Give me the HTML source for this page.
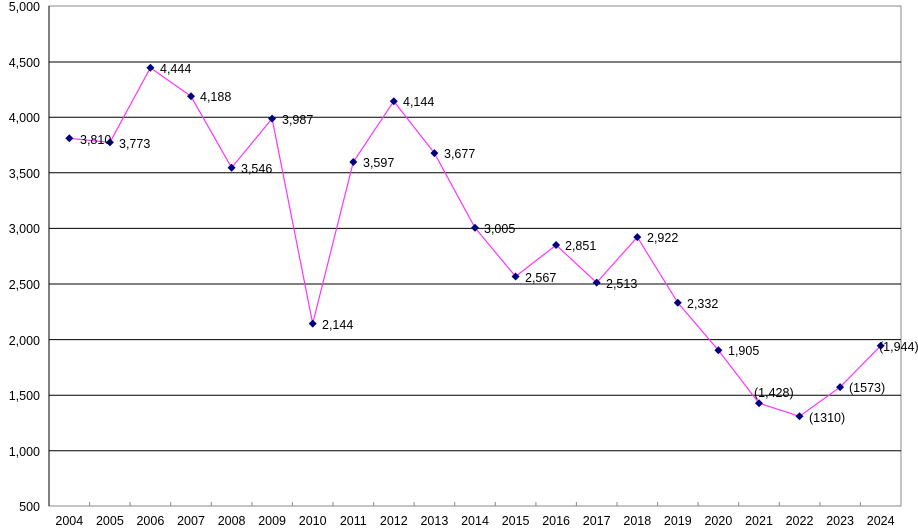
<!DOCTYPE html>
<html><head><meta charset="utf-8"><style>body{margin:0;background:#fff}svg{display:block}text{font-family:"Liberation Sans",sans-serif;font-size:12.5px;fill:#000}</style></head><body>
<svg width="918" height="530" viewBox="0 0 918 530">
<rect x="49" y="6" width="852" height="500" fill="#fff" stroke="#888" stroke-width="1"/>
<g stroke="#000" stroke-width="1">
<line x1="49" x2="901" y1="62" y2="62"/><line x1="49" x2="901" y1="117.2" y2="117.2"/>
<line x1="49" x2="901" y1="172.8" y2="172.8"/><line x1="49" x2="901" y1="228.4" y2="228.4"/>
<line x1="49" x2="901" y1="284" y2="284"/><line x1="49" x2="901" y1="339.6" y2="339.6"/>
<line x1="49" x2="901" y1="395.2" y2="395.2"/><line x1="49" x2="901" y1="450.8" y2="450.8"/>
<line x1="49" x2="49" y1="6" y2="506"/>
</g>
<g stroke="#888" stroke-width="1">
<path d="M89.6 506v-4M130.1 506v-4M170.7 506v-4M211.3 506v-4M251.9 506v-4M292.4 506v-4M333 506v-4M373.6 506v-4M414.1 506v-4M454.7 506v-4M495.3 506v-4M535.9 506v-4M576.4 506v-4M617 506v-4M657.6 506v-4M698.1 506v-4M738.7 506v-4M779.3 506v-4M819.9 506v-4M860.4 506v-4"/>
</g>
<g text-anchor="end">
<text x="40" y="11">5,000</text><text x="40" y="67">4,500</text><text x="40" y="122">4,000</text><text x="40" y="178">3,500</text><text x="40" y="233">3,000</text><text x="40" y="289">2,500</text><text x="40" y="345">2,000</text><text x="40" y="400">1,500</text><text x="40" y="456">1,000</text><text x="40" y="511">500</text>
</g>
<g text-anchor="middle">
<text x="69.3" y="525">2004</text><text x="109.9" y="525">2005</text><text x="150.4" y="525">2006</text><text x="191" y="525">2007</text><text x="231.6" y="525">2008</text><text x="272.1" y="525">2009</text><text x="312.7" y="525">2010</text><text x="353.3" y="525">2011</text><text x="393.8" y="525">2012</text><text x="434.4" y="525">2013</text><text x="475" y="525">2014</text><text x="515.6" y="525">2015</text><text x="556.1" y="525">2016</text><text x="596.7" y="525">2017</text><text x="637.3" y="525">2018</text><text x="677.8" y="525">2019</text><text x="718.4" y="525">2020</text><text x="759" y="525">2021</text><text x="799.5" y="525">2022</text><text x="840.1" y="525">2023</text><text x="880.7" y="525">2024</text>
</g>
<polyline fill="none" stroke="#ff33ff" stroke-width="1.2" points="69.3,138.3 109.9,142.4 150.4,67.8 191,96.3 231.6,167.7 272.1,118.6 312.7,323.6 353.3,162 393.8,101.2 434.4,153.1 475,227.8 515.6,276.5 556.1,245 596.7,282.6 637.3,237.1 677.8,302.7 718.4,350.2 759,403.2 799.5,416.3 840.1,387.1 880.7,345.8"/>
<g fill="#000080">
<path d="M69.3 134.3l4 4-4 4-4-4z"/><path d="M109.9 138.4l4 4-4 4-4-4z"/><path d="M150.4 63.8l4 4-4 4-4-4z"/><path d="M191 92.3l4 4-4 4-4-4z"/><path d="M231.6 163.7l4 4-4 4-4-4z"/><path d="M272.1 114.6l4 4-4 4-4-4z"/><path d="M312.7 319.6l4 4-4 4-4-4z"/><path d="M353.3 158l4 4-4 4-4-4z"/><path d="M393.8 97.2l4 4-4 4-4-4z"/><path d="M434.4 149.1l4 4-4 4-4-4z"/><path d="M475 223.8l4 4-4 4-4-4z"/><path d="M515.6 272.5l4 4-4 4-4-4z"/><path d="M556.1 241l4 4-4 4-4-4z"/><path d="M596.7 278.6l4 4-4 4-4-4z"/><path d="M637.3 233.1l4 4-4 4-4-4z"/><path d="M677.8 298.7l4 4-4 4-4-4z"/><path d="M718.4 346.2l4 4-4 4-4-4z"/><path d="M759 399.2l4 4-4 4-4-4z"/><path d="M799.5 412.3l4 4-4 4-4-4z"/><path d="M840.1 383.1l4 4-4 4-4-4z"/><path d="M880.7 341.8l4 4-4 4-4-4z"/>
</g>
<g>
<text x="80" y="144">3,810</text><text x="119" y="148">3,773</text><text x="160" y="73">4,444</text><text x="200" y="101">4,188</text><text x="241" y="173">3,546</text><text x="282" y="124">3,987</text><text x="322" y="329">2,144</text><text x="363" y="167">3,597</text><text x="403" y="106">4,144</text><text x="444" y="158">3,677</text><text x="484" y="233">3,005</text><text x="525" y="282">2,567</text><text x="565" y="250">2,851</text><text x="606" y="288">2,513</text><text x="647" y="242">2,922</text><text x="687" y="308">2,332</text><text x="728" y="355">1,905</text><text x="754" y="397">(1,428)</text><text x="809" y="422">(1310)</text><text x="849" y="392">(1573)</text><text x="879" y="351">(1,944)</text>
</g>
</svg>
</body></html>
